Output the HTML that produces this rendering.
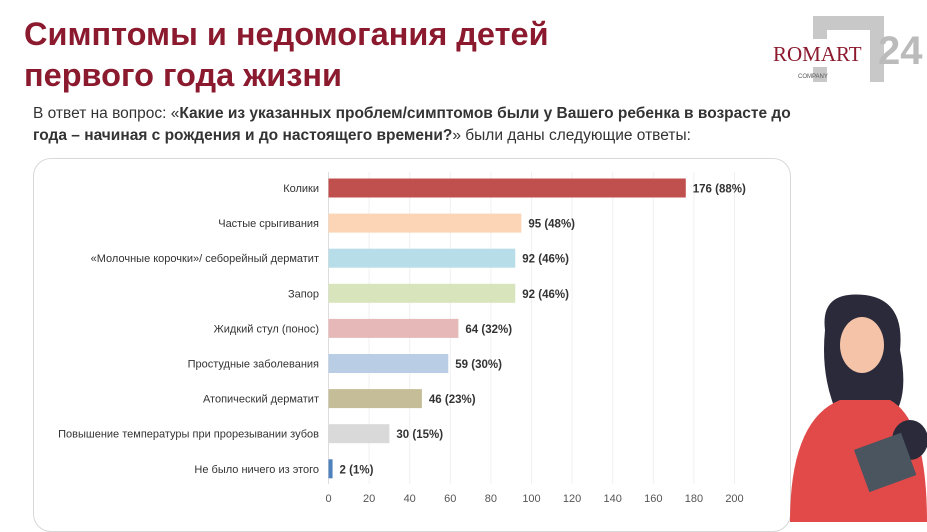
<!DOCTYPE html>
<html><head><meta charset="utf-8"><style>
body{margin:0;width:927px;height:522px;background:#fff;overflow:hidden;position:relative;font-family:"Liberation Sans",sans-serif}
.t{position:absolute;left:24px;top:14px;font-size:32.5px;font-weight:bold;color:#8b1a2e;line-height:41px}
.sub{position:absolute;left:33px;top:103px;font-size:15.5px;color:#333;line-height:22px;width:770px}
.card{position:absolute;left:33px;top:158px;width:756px;height:372px;border:1px solid #d8d8d8;border-radius:18px}
</style></head><body>
<div class="t">Симптомы и недомогания детей<br>первого года жизни</div>
<div class="sub">В ответ на вопрос: «<b>Какие из указанных проблем/симптомов были у Вашего ребенка в возрасте до года – начиная с рождения и до настоящего времени?</b>» были даны следующие ответы:</div>
<div class="card"></div>
<svg style="position:absolute;left:770px;top:14px" width="157" height="72">
<rect x="43" y="2" width="70" height="14" fill="#c8c8c8"/><rect x="43" y="2" width="14" height="66" fill="#c8c8c8"/><rect x="100" y="2" width="14" height="66" fill="#c8c8c8"/>
<rect x="0" y="25" width="100" height="28" fill="#fff"/>
<text x="3" y="47" font-family="Liberation Serif,serif" font-size="21" fill="#8b1a2e">ROMART</text>
<text x="28" y="64" font-size="6" fill="#555">COMPANY</text>
<text x="108" y="50" font-size="40" fill="#bbb" font-weight="bold">24</text>
</svg>
<svg id="ch" style="position:absolute;left:0;top:0" width="927" height="522"></svg>
<svg style="position:absolute;left:780px;top:290px" width="147" height="232">
<path d="M45 40 Q40 0 85 5 Q125 10 120 60 Q130 110 110 130 L60 130 Q40 90 45 40Z" fill="#2a2a3a"/>
<ellipse cx="82" cy="55" rx="22" ry="28" fill="#f4c3a8"/>
<path d="M10 232 Q10 130 60 110 L110 110 Q147 130 147 232Z" fill="#e24a4a"/>
<ellipse cx="130" cy="150" rx="18" ry="20" fill="#2a2a3a"/>
<rect x="80" y="150" width="50" height="45" fill="#4a5560" transform="rotate(-20 105 172)"/>
</svg>
<script>
const cats=["Колики","Частые срыгивания","«Молочные корочки»/ себорейный дерматит","Запор","Жидкий стул (понос)","Простудные заболевания","Атопический дерматит","Повышение температуры при прорезывании зубов","Не было ничего из этого"];
const vals=[176,95,92,92,64,59,46,30,2];
const pcts=["88%","48%","46%","46%","32%","30%","23%","15%","1%"];
const cols=["#c0504d","#fbd5b5","#b7dde8","#d7e4bc","#e6b9b8","#b9cde5","#c4bd97","#d9d9d9","#4f81bd"];
const ticks=[0,20,40,60,80,100,120,140,160,180,200];
const svg=document.getElementById('ch'),NS="http://www.w3.org/2000/svg";
const x=v=>328.5+v*2.03, y=i=>188+i*35.1;
function mk(t,a){const e=document.createElementNS(NS,t);for(const k in a)e.setAttribute(k,a[k]);svg.appendChild(e);return e;}
ticks.forEach(t=>{
const g=mk('line',{x1:x(t),x2:x(t),y1:172,y2:484,stroke:t?'#f0f0f0':'#ddd'});


const l=mk('text',{x:x(t),y:502,'font-size':11,fill:'#555','text-anchor':'middle'});l.textContent=t;


});
cats.forEach((c,i)=>{
const b=mk('rect',{x:x(0),y:y(i)-9.5,width:x(vals[i])-x(0),height:19,fill:cols[i]});


const l=mk('text',{x:319,y:y(i)+4,'font-size':11,fill:'#333','text-anchor':'end'});l.textContent=c;


const v=mk('text',{x:x(vals[i])+7,y:y(i)+4.5,'font-size':11.5,'font-weight':'bold',fill:'#333'});v.textContent=vals[i]+" ("+pcts[i]+")";


});
</script>
</body></html>
